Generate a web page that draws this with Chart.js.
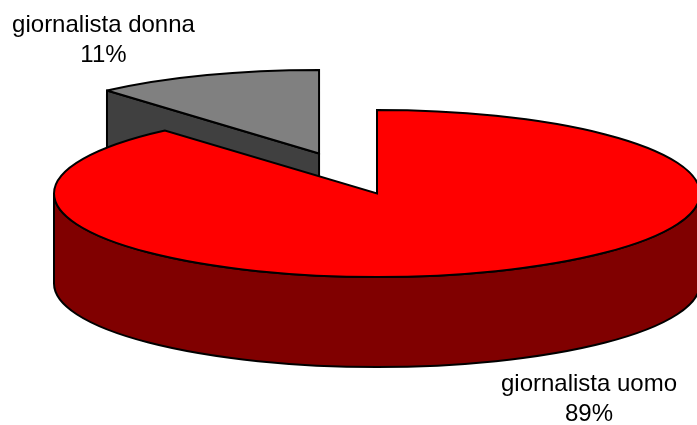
<!DOCTYPE html>
<html>
<head>
<meta charset="utf-8">
<style>
	html, body { margin: 0; padding: 0; background: #fff; overflow: hidden; }
</style>
<script src="https://cdn.jsdelivr.net/npm/chart.js@4/dist/chart.umd.min.js"></script>
</head>
<body>
<canvas id="chart" width="697" height="425"></canvas>
<script>
const categories = ["giornalista uomo", "giornalista donna"];
const percents = [88.6, 11.4];
const topColors = ["#ff0000", "#808080"];
const sideColors = ["#800000", "#404040"];

// flattened pie: circle from chart.js is projected on this ellipse
const pieCx = 377;
const pieCy = 193.5;
const pieRx = 323;
const pieRy = 83.5;
const pieDepth = 90;
const baseRadius = 170;
const explode = [0, 87];

const labelPos = [
	{ x: 589, y: 391 },
	{ x: 103.5, y: 32 },
];

const pie3d = {
	id: "pie3d",
	beforeDatasetsDraw(chart) {
		const ctx = chart.ctx;
		const arcs = chart.getDatasetMeta(0).data;

		ctx.save();
		ctx.lineWidth = 2;
		ctx.strokeStyle = "#000";
		ctx.lineJoin = "miter";
		ctx.miterLimit = 3;

		// back slice first
		for (let i = arcs.length - 1; i >= 0; i--) {
			const arc = arcs[i];
			const { startAngle, endAngle, outerRadius } = arc.getProps(["startAngle", "endAngle", "outerRadius"]);
			const mid = (startAngle + endAngle) / 2;
			const kx = pieRx / outerRadius;
			const ky = pieRy / outerRadius;
			const cx = pieCx + Math.cos(mid) * arc.options.offset * kx;
			const cy = pieCy + Math.sin(mid) * arc.options.offset * ky;

			const shape = (draw) => {
				ctx.beginPath();
				draw();
				ctx.closePath();
				ctx.fill();
				ctx.stroke();
			};

			// cut faces
			ctx.fillStyle = sideColors[i];
			[startAngle, endAngle].forEach((a, n) => {
				const facing = n === 0 ? -Math.cos(a) : Math.cos(a);
				if (facing <= 0.001) return;
				const ex = cx + Math.cos(a) * pieRx;
				const ey = cy + Math.sin(a) * pieRy;
				shape(() => {
					ctx.moveTo(cx, cy);
					ctx.lineTo(ex, ey);
					ctx.lineTo(ex, ey + pieDepth);
					ctx.lineTo(cx, cy + pieDepth);
				});
			});

			// outer wall, only the front half can be seen
			const from = Math.max(startAngle, 0);
			const to = Math.min(endAngle, Math.PI);
			if (to > from) {
				shape(() => {
					ctx.ellipse(cx, cy, pieRx, pieRy, 0, from, to);
					ctx.ellipse(cx, cy + pieDepth, pieRx, pieRy, 0, to, from, true);
				});
			}

			// top
			ctx.fillStyle = arc.options.backgroundColor;
			shape(() => {
				ctx.moveTo(cx, cy);
				ctx.ellipse(cx, cy, pieRx, pieRy, 0, startAngle, endAngle);
			});
		}

		ctx.restore();
		return false;
	},
	afterDraw(chart) {
		const ctx = chart.ctx;
		ctx.save();
		ctx.fillStyle = "#000";
		ctx.font = "24px 'Liberation Sans', Arial, sans-serif";
		ctx.textAlign = "center";
		categories.forEach((name, i) => {
			ctx.fillText(name, labelPos[i].x, labelPos[i].y);
			ctx.fillText(Math.round(percents[i]) + "%", labelPos[i].x, labelPos[i].y + 29.5);
		});
		ctx.restore();
	},
};

new Chart(document.getElementById("chart").getContext("2d"), {
	type: "pie",
	data: {
		labels: categories,
		datasets: [
			{
				data: percents,
				backgroundColor: topColors,
				borderWidth: 0,
				offset: explode,
				radius: baseRadius,
			},
		],
	},
	options: {
		responsive: false,
		animation: false,
		events: [],
		plugins: {
			legend: { display: false },
			tooltip: { enabled: false },
		},
	},
	plugins: [pie3d],
});
</script>
</body>
</html>
